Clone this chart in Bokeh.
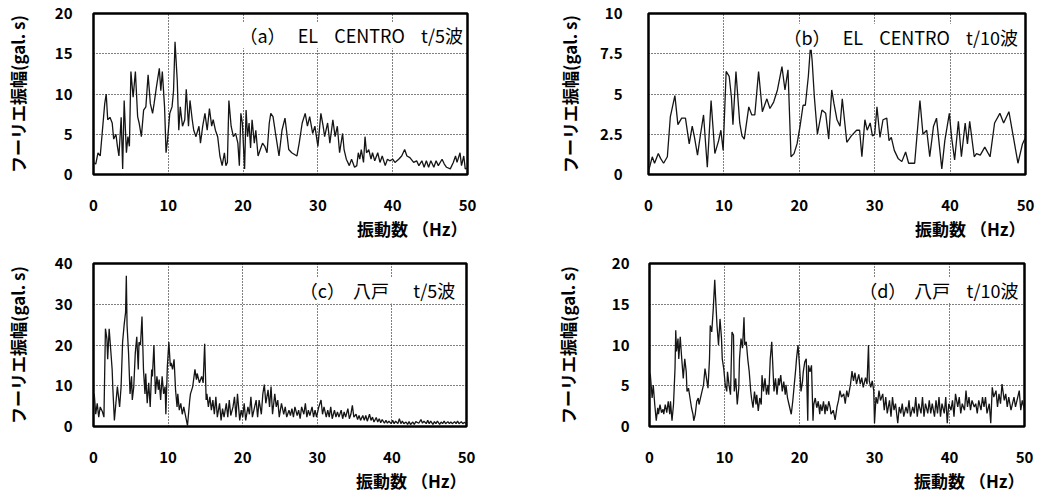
from bokeh.plotting import figure
from bokeh.layouts import column, row
from bokeh.models import Range1d, FixedTicker, Label, Title
from bokeh.embed import file_html
from bokeh.resources import INLINE

# ---------------- data ----------------
x_ticks = [0, 10, 20, 30, 40, 50]

freq_a = [0.0,0.3,0.6,0.9,1.5,1.7,1.9,2.2,2.5,2.7,3.0,3.2,3.4,3.7,3.9,4.1,4.4,4.6,4.8,5.0,5.3,5.6,5.9,6.1,6.4,6.7,7.0,7.3,7.6,7.9,8.1,8.4,8.8,9.0,9.2,9.5,9.7,9.9,10.2,10.5,10.7,10.9,11.2,11.4,11.6,11.9,12.2,12.4,12.7,12.9,13.2,13.4,13.7,14.1,14.3,14.6,14.9,15.2,15.5,15.8,16.0,16.3,16.6,16.9,17.2,17.5,17.7,17.9,18.1,18.4,18.7,19.0,19.3,19.5,19.7,19.9,20.2,20.4,20.6,20.8,21.0,21.2,21.5,21.7,22.0,22.3,22.6,22.9,23.2,23.5,23.7,24.0,24.4,24.8,25.0,25.2,25.6,25.8,26.1,26.5,27.2,27.5,27.9,28.3,28.6,28.9,29.3,29.6,30.0,30.4,30.7,30.9,31.3,31.6,32.0,32.3,32.6,32.9,33.3,33.5,33.8,34.2,34.5,34.9,35.2,35.4,35.6,35.8,36.1,36.3,36.5,36.8,37.1,37.3,37.6,38.0,38.3,38.6,39.0,39.3,39.6,40.0,40.3,40.8,41.2,41.6,41.9,42.3,42.8,43.2,43.5,43.9,44.2,44.5,44.8,45.1,45.5,45.8,46.1,46.6,46.9,47.2,47.7,48.1,48.4,48.6,49.0,49.2,49.5,49.7,50.0]
amp_a = [1.5,1.3,2.7,2.3,8.8,10.0,6.8,7.1,6.4,4.4,5.0,3.5,2.3,7.1,0.7,9.2,2.7,4.7,3.5,12.8,9.6,12.8,7.2,6.4,4.7,8.0,8.4,12.4,8.8,7.6,8.8,10.8,13.2,10.4,12.8,8.4,2.7,4.3,7.6,8.4,10.4,16.5,11.6,5.5,8.4,6.0,6.8,10.6,6.0,9.2,6.8,5.5,4.7,6.0,3.9,6.0,7.6,5.5,8.2,6.0,6.8,5.5,4.7,2.3,1.1,2.7,1.1,1.5,9.2,6.0,4.7,5.1,3.9,1.1,7.6,6.4,0.7,8.0,4.7,6.4,3.3,6.8,3.9,5.5,2.3,3.1,3.9,3.5,2.7,6.4,7.6,7.2,4.7,2.3,3.9,5.5,7.0,5.5,3.1,2.7,2.3,3.9,6.4,7.6,6.0,7.2,5.1,6.0,3.5,7.6,6.0,4.7,6.4,3.9,6.8,4.7,6.0,2.7,5.1,3.1,1.9,1.1,1.9,0.9,1.1,2.7,1.9,3.1,1.5,4.7,2.7,3.1,1.9,2.7,1.7,2.7,1.5,2.3,1.1,1.9,1.7,1.9,1.5,1.9,2.3,3.1,2.3,2.1,1.5,1.7,1.1,1.7,0.9,1.7,0.9,1.7,0.9,1.7,1.1,1.9,1.3,0.9,0.7,1.5,2.3,1.5,2.7,1.1,2.3,0.7,0.8]

freq_b = [0.0,0.5,0.8,1.3,1.6,2.0,2.5,2.9,3.5,3.9,4.4,4.9,5.4,5.8,6.1,6.5,6.9,7.3,7.8,8.3,8.8,9.3,9.6,9.9,10.3,10.7,11.0,11.2,11.6,12.1,12.4,12.7,13.3,13.7,14.1,14.6,15.1,15.7,16.1,16.6,17.1,17.7,18.1,18.5,18.9,19.3,19.7,20.1,20.5,20.8,21.2,21.5,21.7,22.0,22.4,23.0,23.5,23.9,24.3,24.6,25.0,25.4,25.7,26.3,26.9,27.6,28.0,28.3,28.7,29.0,29.4,29.7,30.0,30.3,30.7,31.1,31.6,31.9,32.2,32.6,33.1,33.6,34.1,34.5,35.3,36.0,36.4,36.9,37.3,37.8,38.2,38.9,39.3,39.9,40.2,40.6,41.1,41.5,42.0,42.3,42.6,43.2,43.5,44.0,44.6,45.3,45.9,46.6,47.1,47.8,48.4,49.0,49.6,50.0]
amp_b = [0.2,1.1,0.7,1.3,1.0,0.7,1.1,3.6,4.9,3.1,3.5,3.5,1.9,3.0,2.3,1.2,2.5,3.7,0.45,4.6,1.3,2.1,2.75,1.5,6.4,6.1,4.8,3.1,6.4,3.2,2.4,2.2,4.2,3.7,3.7,6.4,3.9,4.7,4.1,4.5,5.25,6.7,5.25,6.5,1.1,1.3,1.9,3.0,4.3,4.3,6.1,8.1,7.1,4.8,2.5,4.0,3.8,2.2,5.25,4.4,3.4,3.0,4.7,2.0,2.4,2.75,2.75,1.1,3.4,2.75,3.2,2.4,2.5,4.2,2.3,3.4,3.5,2.1,2.3,1.5,1.0,0.8,1.4,0.7,0.7,4.6,2.5,2.75,1.1,3.0,3.5,0.35,2.1,3.8,2.3,0.9,3.3,1.1,3.2,1.9,3.3,1.1,1.3,1.2,1.7,1.1,3.2,3.8,3.2,3.9,2.3,0.7,1.9,2.3]

freq_c = [0.1,0.3,0.5,0.7,0.9,1.2,1.4,1.6,1.8,1.9,2.1,2.3,2.5,2.6,2.8,3.0,3.2,3.4,3.5,3.7,3.9,4.1,4.3,4.4,4.5,4.7,4.9,5.1,5.2,5.4,5.6,5.8,6.0,6.1,6.3,6.5,6.7,6.9,7.0,7.2,7.4,7.6,7.8,7.9,8.1,8.3,8.5,8.7,8.8,9.0,9.2,9.4,9.6,9.7,9.9,10.1,10.3,10.4,10.6,10.8,11.0,11.2,11.3,11.5,11.7,11.9,12.1,12.3,12.6,12.9,13.0,13.3,13.6,13.8,13.9,14.2,14.5,14.7,14.9,15.1,15.2,15.4,15.6,15.8,16.0,16.2,16.4,16.6,16.9,17.1,17.3,17.5,17.8,18.0,18.2,18.4,18.7,18.9,19.1,19.3,19.6,19.8,20.0,20.2,20.4,20.7,20.9,21.1,21.3,21.6,21.8,22.0,22.2,22.5,22.7,22.9,23.1,23.4,23.6,23.8,24.0,24.3,24.5,24.7,24.9,25.2,25.5,25.7,25.9,26.2,26.4,26.6,26.8,27.0,27.3,27.5,27.7,27.9,28.2,28.4,28.6,28.8,29.0,29.3,29.5,29.7,29.9,30.2,30.5,30.7,30.9,31.2,31.4,31.6,31.8,32.0,32.3,32.5,32.7,32.9,33.2,33.4,33.6,33.8,34.1,34.3,34.5,34.7,34.9,35.2,35.4,35.6,35.8,36.1,36.3,36.5,36.7,37.0,37.2,37.4,37.6,37.9,38.1,38.3,38.5,38.7,39.0,39.2,39.4,39.6,39.9,40.1,40.3,40.5,40.8,41.0,41.2,41.4,41.6,41.9,42.1,42.3,42.5,42.8,43.0,43.2,43.6,43.9,44.1,44.3,44.6,44.8,45.0,45.2,45.5,45.7,45.9,46.1,46.4,46.6,46.8,47.0,47.2,47.5,47.7,47.9,48.1,48.4,48.6,48.8,49.0,49.3,49.5,49.7,50.0]
amp_c = [8,3,5.7,2.3,4.8,3.6,2.3,24,21.5,16.5,24,19,14,9,1.5,5.7,9.8,6.5,4.8,9.8,20.7,24.8,28,37,24.8,18,8,12.3,6.5,9.8,18,22,14,20.7,20,27,14,8,13,5.7,10.7,4.8,14,12.3,20,8,12.3,9,11.5,6.5,12.3,8,9.8,3,14.8,20.7,14.8,15.6,14,16.5,9,4.8,8,4,5.7,3,4.8,3,0.2,6.5,8,9.8,14,11.5,13,10.7,12.3,10.7,20.3,6.5,8,4.8,7.3,4,6.5,3,7.3,2.3,5.7,1.5,4.4,2.3,5.7,2.3,6.5,2.7,4.8,7.3,2.3,8,1.5,4,2.3,5.7,1.5,4.8,3,7.3,2.3,4.8,6.5,2.3,6.5,3,8,10.3,5.7,9,4.8,9.8,3,8,4.8,6.5,2.3,5.7,3,4.8,2.3,4,2.7,4.4,2.3,4.8,2.7,4,1.9,4.8,3,5.7,2.3,4,2.7,4.8,2.3,4,2.3,4.8,6.5,3,4.8,2.3,4,2.3,4.8,1.9,4,2.3,3.6,2.3,4,1.9,3.6,2.3,4.4,1.9,3,5.2,2.3,3,1.7,2.7,1.5,2.7,1.5,2.7,1.3,3,1.5,2.3,1.1,2.2,1.1,1.9,0.9,1.7,0.8,1.5,0.8,1.3,0.7,1.5,0.7,1.3,0.7,1.9,0.7,1.3,0.7,1.1,0.5,1.2,0.5,1.1,0.5,1.2,0.8,1.7,0.8,1.3,0.7,1.5,0.7,1.3,0.5,1.2,0.7,1.3,0.5,1.1,0.7,1.3,0.7,1.2,0.7,1.1,0.7,1.2,0.7,1.3,0.7,1.2,0.7,1.0,0.7]

freq_d = [0.1,0.35,0.5,0.7,0.9,1.1,1.2,1.4,1.6,1.8,1.9,2.1,2.3,2.5,2.7,2.8,3.0,3.2,3.4,3.5,3.6,3.8,3.9,4.1,4.2,4.3,4.5,4.7,4.9,5.0,5.2,5.4,5.6,5.8,5.9,6.1,6.3,6.5,6.6,6.8,7.0,7.2,7.4,7.6,7.8,8.0,8.1,8.3,8.5,8.7,8.8,9.0,9.2,9.4,9.6,9.7,9.9,10.1,10.3,10.4,10.6,10.8,11.0,11.2,11.3,11.5,11.7,11.9,12.0,12.2,12.4,12.6,12.7,12.9,13.1,13.3,13.5,13.6,13.8,14.0,14.2,14.3,14.5,14.7,14.9,15.0,15.2,15.4,15.6,15.8,15.9,16.1,16.3,16.5,16.6,16.8,17.0,17.2,17.3,17.5,17.7,17.9,18.1,18.2,18.4,18.6,18.8,18.9,19.1,19.3,19.5,19.6,19.8,20.0,20.2,20.4,20.5,20.7,20.9,21.1,21.2,21.4,21.6,21.8,21.9,22.1,22.3,22.5,22.7,22.8,23.0,23.2,23.4,23.5,23.7,23.9,24.1,24.2,24.5,24.75,25.0,25.2,25.4,25.6,25.9,26.1,26.3,26.5,26.8,27.0,27.2,27.4,27.6,27.9,28.1,28.3,28.5,28.8,29.0,29.2,29.3,29.5,29.7,29.9,30.0,30.2,30.4,30.6,30.8,31.1,31.3,31.5,31.7,32.0,32.2,32.4,32.6,32.8,33.1,33.3,33.5,33.7,33.9,34.2,34.4,34.6,34.8,35.1,35.3,35.5,35.7,35.9,36.2,36.4,36.6,36.8,37.1,37.3,37.5,37.7,38.0,38.2,38.4,38.6,38.8,39.0,39.3,39.5,39.7,39.9,40.2,40.4,40.6,40.8,41.1,41.3,41.5,41.7,42.0,42.2,42.4,42.6,42.8,43.0,43.3,43.5,43.7,43.9,44.2,44.4,44.6,44.8,45.0,45.3,45.5,45.7,45.9,46.2,46.4,46.6,46.8,47.0,47.3,47.5,47.7,47.9,48.2,48.4,48.6,48.8,49.0,49.3,49.5,49.7,50.0]
amp_d = [6.5,3.5,5.1,2.7,0.7,2.3,1.5,2.7,1.7,2.1,1.5,2.7,1.7,3.1,1.5,3.1,0.7,2.7,7.1,11.8,9.2,10.8,8.3,11,9.6,8.3,5.9,8.3,6.7,4.3,4.7,3.5,2.3,1.5,0.7,1.5,3.1,3.5,2.7,3.5,4.3,5.1,7.1,5.9,4.7,8.3,12.4,11.6,14.4,18,16,12.4,10,13.2,10.8,8.3,7.1,5.1,4.3,6.7,5.1,3.9,11.6,11.2,4.3,5.9,2.7,4.7,8.3,10.8,9.6,13.4,10,10.4,8.3,6.7,4.3,3.5,2.3,4.3,2.7,3.9,1.9,3.5,2.7,6.3,4.3,5.9,3.9,5.1,3.9,8.3,10.4,6.3,4.3,5.9,3.9,5.9,5.1,6.3,4.3,5.5,3.9,5.1,3.5,2.7,1.9,1.5,3.1,5.1,7.1,8.3,10,7.5,4.3,5.5,6.7,7.9,8.3,0.7,7.5,6.7,7.5,0.7,2.7,3.5,2.3,3.1,1.5,2.7,1.9,3.1,1.5,2.7,1.9,3.1,2.3,1.5,2.0,0.8,2.4,3.2,4.4,3.6,4,2.8,4.4,3.6,5.2,6.8,5.6,6.6,5.2,6.4,5.2,6.0,4.8,6.0,5.2,10,5.6,4.8,5.6,4.4,0.4,3.6,2.8,4.4,3.2,4,2,3.6,1.6,3.2,1.2,3.6,2,2.8,0.4,2.4,1.6,2.8,1.2,2.4,1.6,3.2,1.2,2.4,1.6,3.6,1.2,2.8,1.6,3.6,1.2,2.8,1.6,3.2,1.6,2.8,1.2,3.2,1.6,3.6,1.2,2.8,1.6,3.6,0.4,2.8,2,3.2,1.2,4,2.4,3.6,1.6,2.8,2,4.4,2.4,3.6,2,3.2,2.4,2.8,1.6,3.2,2,3.6,2.4,3.6,1.6,2.8,0.4,4.8,3.6,4.4,2.4,4,2.8,5.2,3.2,4,2.4,3.6,2,2.8,3.6,2.4,3.2,4.4,2,3.2,2]

NB = "\u00a0"
panels = [
    dict(freq=freq_a, amp=amp_a, ymax=20, yticks=[0, 5, 10, 15, 20], ylabels=None,
         text="（a）" + NB * 3 + "EL" + NB * 4 + "CENTRO" + NB * 4 + "t/5波", tx=49.4, ty=17.3),
    dict(freq=freq_b, amp=amp_b, ymax=10, yticks=[0, 2.5, 5, 7.5, 10],
         ylabels={0: "0", 2.5: "2.5", 5: "5", 7.5: "7.5", 10: "10"},
         text="（b）" + NB * 3 + "EL" + NB * 4 + "CENTRO" + NB * 4 + "t/10波", tx=49.0, ty=8.55),
    dict(freq=freq_c, amp=amp_c, ymax=40, yticks=[0, 10, 20, 30, 40], ylabels=None,
         text="（c）" + NB * 2 + "八戸" + NB * 6 + "t/5波", tx=48.5, ty=33.4),
    dict(freq=freq_d, amp=amp_d, ymax=20, yticks=[0, 5, 10, 15, 20], ylabels=None,
         text="（d）" + NB * 2 + "八戸" + NB * 4 + "t/10波", tx=49.2, ty=16.75),
]

Y_LABEL = "フーリエ振幅(gal. s)"
X_LABEL = "振動数 （Hz）"
FONT = "Noto Sans CJK JP"

# layout geometry: (width, height, border_left, border_right, border_top, border_bottom, tick_standoff, label_standoff)
geom = [
    (528, 253, 93, 61, 13, 77, 15, 22),
    (513, 253, 120, 16, 13, 79, 20, 15),
    (528, 239, 93, 62, 10, 66, 15, 22),
    (513, 239, 121, 17, 10, 66, 14, 29),
]


def make_panel(cfg, g):
    w, h, bl, br, bt, bb, tso, lso = g
    p = figure(width=w, height=h, output_backend="svg", toolbar_location=None,
               x_range=Range1d(0, 50), y_range=Range1d(0, cfg["ymax"]),
               min_border_left=bl, min_border_right=br, min_border_top=bt,
               min_border_bottom=bb, background_fill_color="white",
               border_fill_color="white")
    p.line(cfg["freq"], cfg["amp"], line_color="#151515", line_width=1.3)

    p.outline_line_color = "black"
    p.outline_line_width = 2.5
    p.outline_line_alpha = 1.0

    p.xaxis.ticker = FixedTicker(ticks=x_ticks)
    p.yaxis.ticker = FixedTicker(ticks=cfg["yticks"])
    if cfg["ylabels"]:
        p.yaxis.major_label_overrides = cfg["ylabels"]
    for ax in (p.xaxis[0], p.yaxis[0]):
        ax.axis_line_color = None
        ax.major_tick_line_color = None
        ax.minor_tick_line_color = None
        ax.major_label_text_font = FONT
        ax.major_label_text_font_style = "bold"
        ax.major_label_text_font_size = "15px"
        ax.major_label_text_color = "black"
    p.xaxis.major_label_standoff = 19
    p.yaxis.major_label_standoff = tso
    p.yaxis.axis_label = Y_LABEL
    p.yaxis.axis_label_text_font = FONT
    p.yaxis.axis_label_text_font_style = "bold"
    p.yaxis.axis_label_text_font_size = "17px"
    p.yaxis.axis_label_text_color = "black"
    p.yaxis.axis_label_standoff = lso

    for gr in (p.xgrid[0], p.ygrid[0]):
        gr.grid_line_color = "black"
        gr.grid_line_dash = "1 2"
        gr.grid_line_width = 1
    p.xgrid.ticker = FixedTicker(ticks=x_ticks[1:-1])
    p.ygrid.ticker = FixedTicker(ticks=cfg["yticks"][1:-1])

    p.add_layout(Title(text=X_LABEL, align="right", offset=0, standoff=0,
                       text_font=FONT, text_font_style="bold",
                       text_font_size="17px", text_color="black"), "below")

    p.add_layout(Label(x=cfg["tx"], y=cfg["ty"], text=cfg["text"],
                       text_align="right", text_baseline="middle",
                       text_font=FONT, text_font_size="18px",
                       text_color="black", background_fill_color="white"))
    return p


figs = [make_panel(c, g) for c, g in zip(panels, geom)]
layout = column(row(figs[0], figs[1]), row(figs[2], figs[3]))

open("out.html", "w").write(file_html(layout, INLINE))
